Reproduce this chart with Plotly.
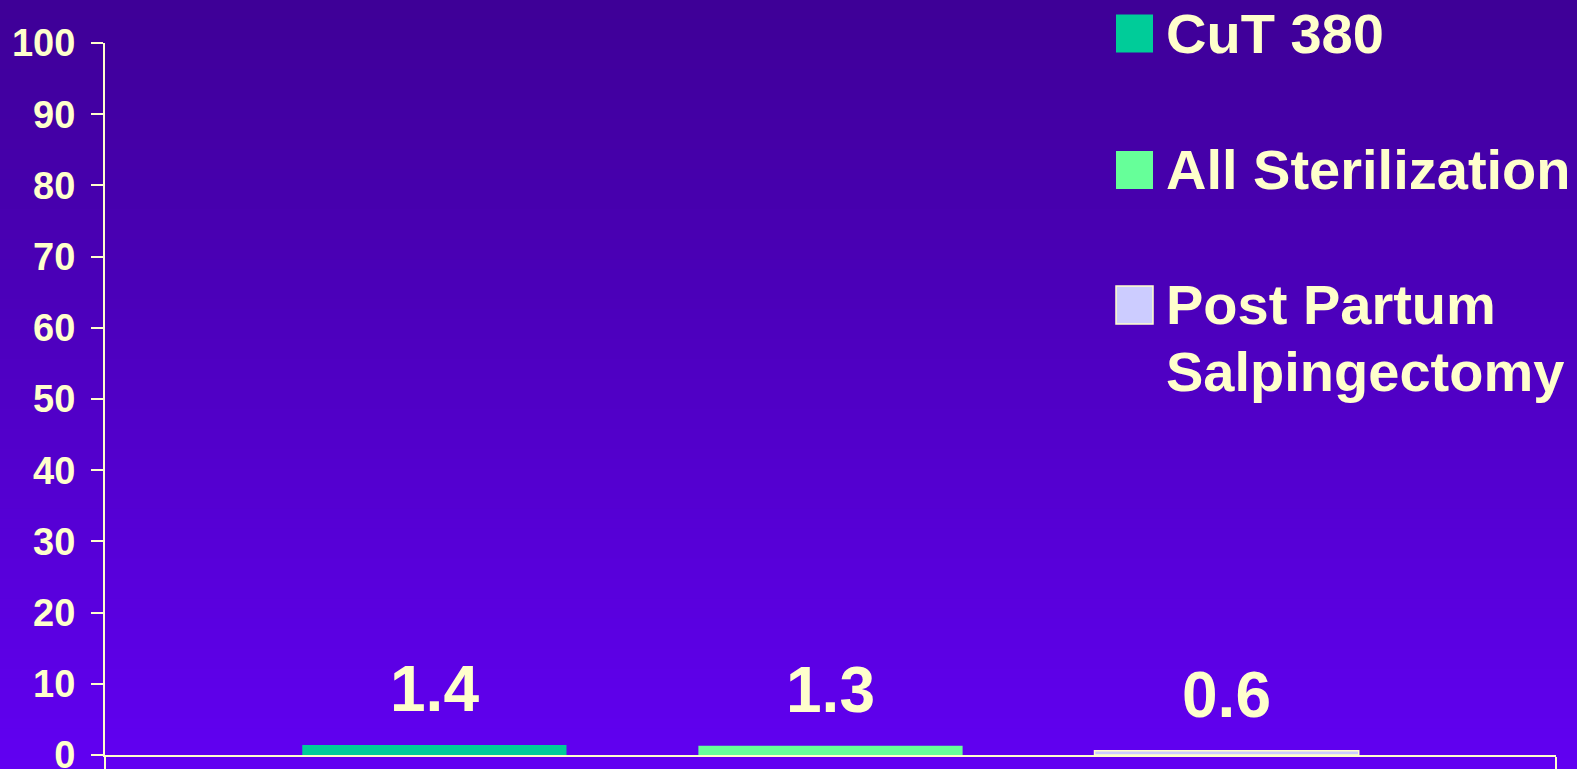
import plotly.graph_objects as go

# ---- data ----
category = ["Pregnancy rate"]
series_names = ["CuT 380", "All Sterilization", "Post Partum<br>Salpingectomy"]
series_values = [1.4, 1.3, 0.6]
value_labels = ["1.4", "1.3", "0.6"]
series_colors = ["#00CC99", "#66FF99", "#CCCCFF"]
series_outline = [0, 0, 1.5]
y_ticks = [0, 10, 20, 30, 40, 50, 60, 70, 80, 90, 100]

# ---- layout geometry (pixels) ----
W, H = 1577, 769
ML, MR, MT, MB = 105, 21, 43, 14
PW, PH = W - ML - MR, H - MT - MB
TXT = "#FFFFCC"
FONT = "Arial, Liberation Sans, sans-serif"
BARGAP = 0.181
BARGROUPGAP = 0.333


def px2x(px):
    return (px - ML) / PW


def py2y(py):
    return (H - MB - py) / PH


fig = go.Figure()
for name, val, col, lw in zip(series_names, series_values, series_colors, series_outline):
    fig.add_trace(go.Bar(
        x=category, y=[val], name=name.replace("<br>", " "),
        marker=dict(color=col, line=dict(color=TXT, width=lw)),
        showlegend=False, hoverinfo="skip",
    ))

# gradient background via thin bands
shapes = []
top = (62, 0, 150)
bot = (97, 0, 242)
nb = 77
for i in range(nb):
    y0p = i * H / nb
    y1p = (i + 1) * H / nb
    t = (i + 0.5) / nb
    c = tuple(round(top[k] + (bot[k] - top[k]) * t) for k in range(3))
    shapes.append(dict(type="rect", xref="paper", yref="paper",
                       x0=px2x(-2), x1=px2x(W + 2), y0=py2y(y1p + 0.5), y1=py2y(y0p - 0.5),
                       fillcolor="rgb(%d,%d,%d)" % c, line=dict(width=0), layer="below"))

annotations = []
# value labels above bars
n = len(series_values)
slot = (1 - BARGAP) / n
for i, (val, lab) in enumerate(zip(series_values, value_labels)):
    xc = -0.5 * (1 - BARGAP) + slot * (i + 0.5)
    annotations.append(dict(x=xc, y=val, xref="x", yref="y", text="<b>%s</b>" % lab,
                            showarrow=False, yanchor="bottom", xanchor="center", yshift=18,
                            font=dict(family=FONT, size=64, color=TXT)))

# custom legend
sq_x0, sq_x1 = 1116, 1153
centers = [33.5, 170, 305]
line_step = 66
for name, col, lw, cy in zip(series_names, series_colors, series_outline, centers):
    shapes.append(dict(type="rect", xref="paper", yref="paper",
                       x0=px2x(sq_x0), x1=px2x(sq_x1), y0=py2y(cy + 19), y1=py2y(cy - 19),
                       fillcolor=col, line=dict(color=TXT, width=lw if lw else 0)))
    for j, part in enumerate(name.split("<br>")):
        annotations.append(dict(x=px2x(1164), y=py2y(cy + j * line_step), xref="paper", yref="paper",
                                text="<b>%s</b>" % part, showarrow=False,
                                xanchor="left", yanchor="middle",
                                font=dict(family=FONT, size=56, color=TXT)))

fig.update_layout(
    width=W, height=H, autosize=False,
    margin=dict(l=ML, r=MR, t=MT, b=MB, pad=0, autoexpand=False),
    paper_bgcolor="rgb(62,0,150)",
    plot_bgcolor="rgba(0,0,0,0)",
    barmode="group", bargap=BARGAP, bargroupgap=BARGROUPGAP,
    shapes=shapes, annotations=annotations,
    showlegend=False,
    xaxis=dict(showticklabels=False, showline=True, linecolor=TXT, linewidth=2,
               ticks="outside", tickson="boundaries", ticklen=14, tickwidth=2, tickcolor=TXT,
               showgrid=False, zeroline=False, automargin=False),
    yaxis=dict(range=[0, 100], tickvals=y_ticks, showline=True, linecolor=TXT, linewidth=2,
               ticks="outside", ticklen=12, tickwidth=2, tickcolor=TXT,
               showgrid=False, zeroline=False, ticklabelstandoff=8, automargin=False,
               ticklabeloverflow="allow",
               tickfont=dict(family=FONT, size=38, color=TXT, weight="bold")),
)

fig.write_html(
    "out.html",
    config={"displayModeBar": False},
    post_script="document.body.style.margin='0';document.body.style.overflow='hidden';"
                "document.documentElement.style.overflow='hidden';",
)
